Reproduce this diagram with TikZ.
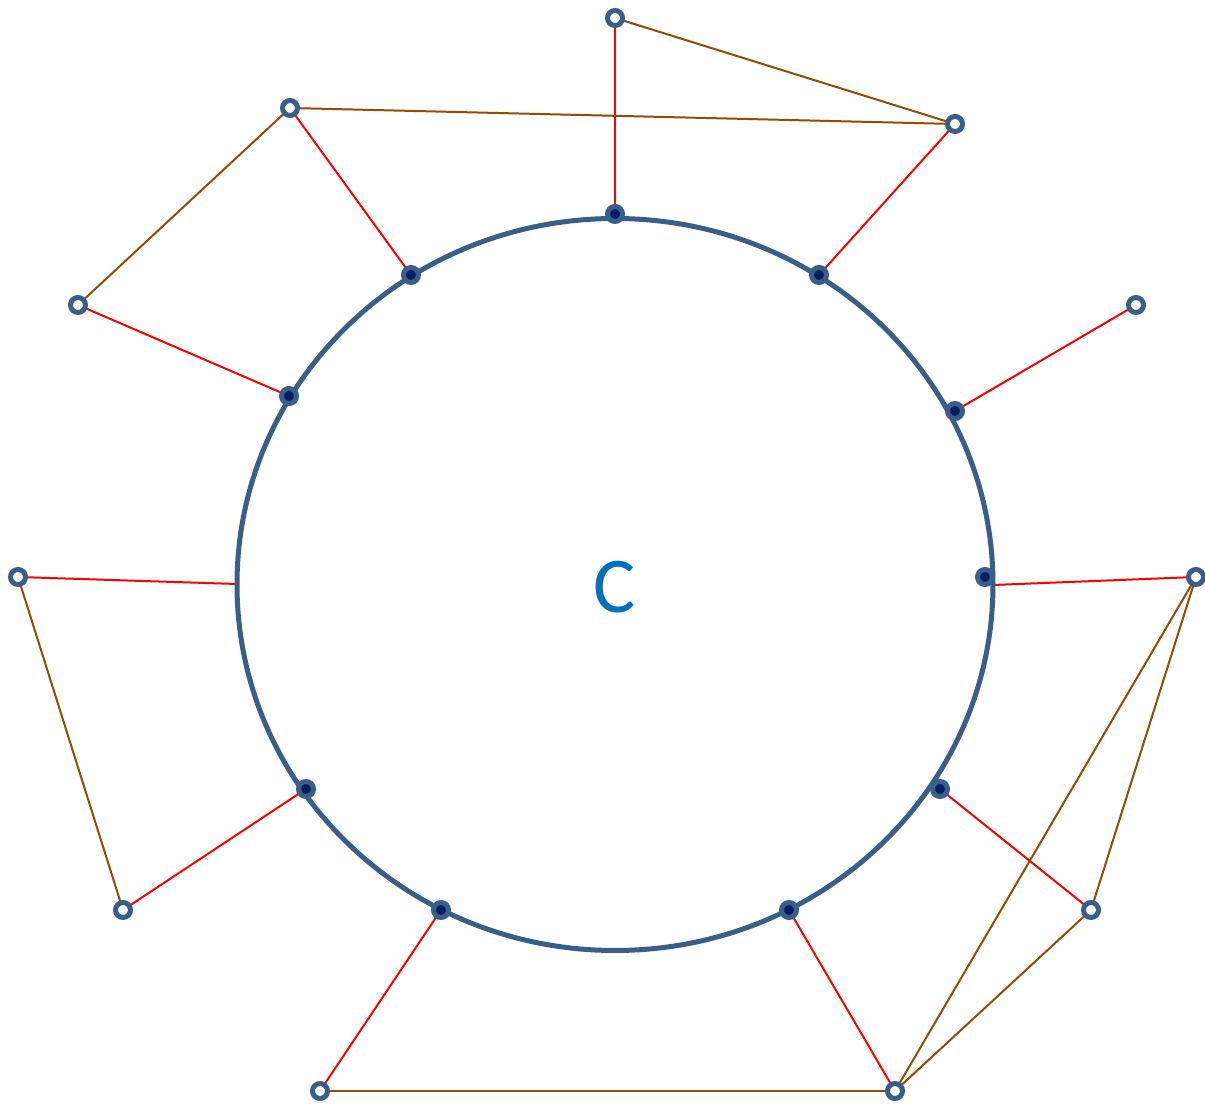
\documentclass[tikz,border=0pt]{standalone}
\usepackage{fontspec}
\setmainfont{Carlito}
\usetikzlibrary{backgrounds}
\definecolor{ringblue}{RGB}{58,94,140}
\definecolor{navy}{RGB}{8,30,96}
\definecolor{linkred}{RGB}{255,0,0}
\definecolor{linkbrown}{RGB}{150,75,5}
\definecolor{labelblue}{RGB}{0,112,192}
\tikzset{
  opn/.style={circle,draw=ringblue,fill=white,line width=0.1cm,minimum size=0.3cm,inner sep=0pt},
  fil/.style={circle,draw=ringblue,fill=navy,line width=0.1cm,minimum size=0.3cm,inner sep=0pt},
  redl/.style={draw=linkred,line width=0.04cm},
  brnl/.style={draw=linkbrown,line width=0.04cm},
}
\begin{document}
\begin{tikzpicture}[x=0.02cm,y=-0.02cm]
\useasboundingbox (0,0) rectangle (1205,1104);
\draw[ringblue,line width=0.1cm] (615,584.5) ellipse [x radius=378, y radius=366];
\node[text=labelblue,font=\fontsize{45}{45}\selectfont] (lab) at (615,587) {C};
% inner dots
\node[fil] (d1) at (615,214) {};
\node[fil] (d2) at (819,275) {};
\node[fil] (d3) at (955,411) {};
\node[fil] (d4) at (985,577) {};
\node[fil] (d5) at (940,789) {};
\node[fil] (d6) at (789,910) {};
\node[fil] (d7) at (441,910) {};
\node[fil] (d8) at (306,789) {};
\node[fil] (d9) at (289,396) {};
\node[fil] (d10) at (411,275) {};
\coordinate (cL) at (237,584);
\coordinate (cR) at (993,585);
% outer points
\node[opn] (o1) at (615,18) {};
\node[opn] (o2) at (955,124) {};
\node[opn] (o3) at (1136,305) {};
\node[opn] (o4) at (1196,577) {};
\node[opn] (o5) at (1091,910) {};
\node[opn] (o6) at (895,1091) {};
\node[opn] (o7) at (320,1091) {};
\node[opn] (o8) at (123,910) {};
\node[opn] (o9) at (18,577) {};
\node[opn] (o10) at (78,305) {};
\node[opn] (o11) at (290,108) {};
\begin{scope}[on background layer]
\draw[redl] (o1.center) -- (d1.center);
\draw[redl] (o2.center) -- (d2.center);
\draw[redl] (o3.center) -- (d3.center);
\draw[redl] (o4.center) -- (cR);
\draw[redl] (o5.center) -- (d5.center);
\draw[redl] (o6.center) -- (d6.center);
\draw[redl] (o7.center) -- (d7.center);
\draw[redl] (o8.center) -- (d8.center);
\draw[redl] (o9.center) -- (cL);
\draw[redl] (o10.center) -- (d9.center);
\draw[redl] (o11.center) -- (d10.center);
\draw[brnl] (o1.center) -- (o2.center);
\draw[brnl] (o11.center) -- (o2.center);
\draw[brnl] (o11.center) -- (o10.center);
\draw[brnl] (o9.center) -- (o8.center);
\draw[brnl] (o7.center) -- (o6.center);
\draw[brnl] (o6.center) -- (o5.center);
\draw[brnl] (o6.center) -- (o4.center);
\draw[brnl] (o4.center) -- (o5.center);
\end{scope}
\end{tikzpicture}
\end{document}
